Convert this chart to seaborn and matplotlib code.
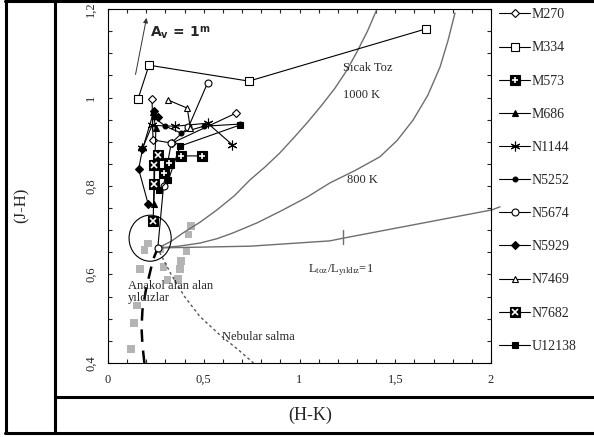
import numpy as np
import pandas as pd
import matplotlib
matplotlib.use("Agg")
import matplotlib.pyplot as plt
import seaborn as sns
from matplotlib.lines import Line2D
from matplotlib.patches import Ellipse
from matplotlib.ticker import MultipleLocator, FuncFormatter
from matplotlib.legend_handler import HandlerTuple

sns.set_style("ticks")
plt.rcParams['font.family'] = ['Liberation Serif', 'DejaVu Serif']
plt.rcParams['mathtext.fontset'] = 'stix'

# gözlenen galaksi çekirdekleri (H-K, J-H)
M270_x = [0.23, 0.235, 0.334, 0.67]
M270_y = [0.996, 0.904, 0.897, 0.965]
M334_x = [0.157, 0.214, 0.736, 1.66]
M334_y = [0.997, 1.073, 1.037, 1.155]
M573_x = [0.29, 0.32, 0.382, 0.49]
M573_y = [0.83, 0.852, 0.868, 0.868]
M686_x = [0.24, 0.245, 0.25, 0.235]
M686_y = [0.76, 0.86, 0.93, 0.967]
N1144_x = [0.18, 0.23, 0.35, 0.52, 0.65]
N1144_y = [0.885, 0.937, 0.935, 0.942, 0.893]
N5252_x = [0.24, 0.30, 0.38, 0.50, 0.69]
N5252_y = [0.955, 0.935, 0.92, 0.935, 0.94]
N5674_x = [0.26, 0.29, 0.33, 0.42, 0.52]
N5674_y = [0.66, 0.80, 0.897, 0.933, 1.033]
N5929_x = [0.21, 0.16, 0.18, 0.24, 0.26]
N5929_y = [0.759, 0.838, 0.883, 0.97, 0.955]
N7469_x = [0.315, 0.414, 0.43]
N7469_y = [0.994, 0.976, 0.93]
N7682_x = [0.236, 0.24, 0.24, 0.26]
N7682_y = [0.721, 0.804, 0.848, 0.87]
U12138_x = [0.265, 0.315, 0.376, 0.69]
U12138_y = [0.79, 0.813, 0.890, 0.938]

# anakol yıldızları (gri kareler)
star_x = [0.435, 0.42, 0.21, 0.19, 0.27, 0.41, 0.38, 0.167, 0.29, 0.376, 0.31, 0.366, 0.15, 0.136, 0.12]
star_y = [0.71, 0.69, 0.67, 0.655, 0.657, 0.653, 0.63, 0.612, 0.617, 0.612, 0.588, 0.59, 0.53, 0.49, 0.432]

# model eğrileri
ms_x = [0.19, 0.18, 0.175, 0.18, 0.20, 0.235, 0.26]
ms_y = [0.40, 0.44, 0.48, 0.52, 0.57, 0.633, 0.66]
neb_x = [0.27, 0.33, 0.40, 0.48, 0.58, 0.68, 0.76]
neb_y = [0.65, 0.60, 0.55, 0.505, 0.465, 0.43, 0.40]
t1000_x = [0.261, 0.33, 0.392, 0.48, 0.569, 0.66, 0.742, 0.82, 0.898, 0.97, 1.044, 1.115, 1.185, 1.245, 1.300, 1.355, 1.405]
t1000_y = [0.660, 0.675, 0.694, 0.718, 0.746, 0.778, 0.814, 0.843, 0.875, 0.909, 0.945, 0.982, 1.021, 1.060, 1.103, 1.150, 1.200]
t800_x = [0.261, 0.37, 0.480, 0.57, 0.653, 0.78, 0.914, 1.04, 1.159, 1.29, 1.420, 1.51, 1.593, 1.67, 1.734, 1.775, 1.812]
t800_y = [0.660, 0.664, 0.671, 0.681, 0.694, 0.717, 0.746, 0.775, 0.807, 0.835, 0.866, 0.903, 0.949, 1.005, 1.069, 1.128, 1.191]
lum_x = [0.261, 0.742, 1.159, 1.227, 2.005, 2.047]
lum_y = [0.660, 0.664, 0.676, 0.682, 0.746, 0.753]

fig = plt.figure(figsize=(5.94, 4.37), dpi=100)
ax = fig.add_axes([108/594, 1-363/437, (491-108)/594, (363-9)/437])

sns.scatterplot(x=star_x, y=star_y, marker='s', s=30, color='#b4b4b4',
                edgecolor='none', ax=ax, zorder=1, legend=False)

gray = '#6e6e6e'
for cx, cy in [(t1000_x, t1000_y), (t800_x, t800_y)]:
    ax.plot(cx, cy, color=gray, lw=1.0, zorder=2)
ax.plot(lum_x, lum_y, color=gray, lw=1.0, zorder=2, clip_on=False)
ax.plot([1.227, 1.227], [0.668, 0.70], color=gray, lw=1.0)
ax.plot(ms_x, ms_y, color='black', lw=1.8, dashes=(5, 3.5), zorder=2)
ax.plot(neb_x, neb_y, color='#555555', lw=1.0, linestyle=(0, (2, 2)), zorder=2)
ax.add_patch(Ellipse((0.22, 0.682), 0.22, 0.104, fill=False, lw=0.8, ec='black', zorder=2))

series = [
    ("M270", M270_x, M270_y, dict(marker='D', ms=4, mfc='white')),
    ("M334", M334_x, M334_y, dict(marker='s', ms=5.5, mfc='white')),
    ("M573", M573_x, M573_y, dict(marker='s', ms=7, mfc='black')),
    ("M686", M686_x, M686_y, dict(marker='^', ms=5, mfc='black')),
    ("N1144", N1144_x, N1144_y, dict(marker=(6, 2, 0), ms=7, mfc='black')),
    ("N5252", N5252_x, N5252_y, dict(marker='o', ms=3.5, mfc='black')),
    ("N5674", N5674_x, N5674_y, dict(marker='o', ms=5, mfc='white')),
    ("N5929", N5929_x, N5929_y, dict(marker='D', ms=4, mfc='black')),
    ("N7469", N7469_x, N7469_y, dict(marker='^', ms=5, mfc='white')),
    ("N7682", N7682_x, N7682_y, dict(marker='s', ms=7, mfc='black')),
    ("U12138", U12138_x, U12138_y, dict(marker='s', ms=5, mfc='black')),
]
overlay = {"M573": '+', "N7682": 'x'}

handles, labels = [], []
for name, sx, sy, st in series:
    sns.lineplot(x=sx, y=sy, estimator=None, sort=False, color='black', lw=0.8,
                 mec='black', mew=0.8, ax=ax, zorder=3, **st)
    h = Line2D([], [], color='black', lw=0.8, mec='black', mew=0.8, **st)
    if name in overlay:
        ax.plot(sx, sy, ls='none', marker=overlay[name], ms=4.5, mec='white', mew=1.2, zorder=4)
        h = (h, Line2D([], [], ls='none', marker=overlay[name], ms=4.5, mec='white', mew=1.2))
    handles.append(h)
    labels.append(name)

ax.annotate('', xy=(0.204, 1.186), xytext=(0.141, 1.046),
            arrowprops=dict(arrowstyle='-|>', lw=0.7, color='#333333', mutation_scale=7))
ax.text(0.22, 1.148, r'A$_\mathregular{v}$ = 1$^\mathregular{m}$', fontsize=10, fontweight='bold',
        family=['DejaVu Sans'], va='center')
ax.text(1.227, 1.067, 'Sıcak Toz', fontsize=9, va='center')
ax.text(1.227, 1.006, '1000 K', fontsize=9, va='center')
ax.text(1.248, 0.814, '800 K', fontsize=9, va='center')
ax.text(1.044, 0.61, r'L$_\mathregular{toz}$/L$_\mathregular{yıldız}$=1', fontsize=9, va='center')
ax.text(0.104, 0.56, 'Anakol alan alan\nyıldızlar', fontsize=9, va='center', linespacing=1.0)
ax.text(0.595, 0.459, 'Nebular salma', fontsize=9, va='center')

ax.set_xlim(0, 2)
ax.set_ylim(0.4, 1.2)
ax.xaxis.set_major_locator(MultipleLocator(0.5))
ax.xaxis.set_minor_locator(MultipleLocator(0.1))
ax.yaxis.set_major_locator(MultipleLocator(0.2))
ax.yaxis.set_minor_locator(MultipleLocator(0.05))
comma = FuncFormatter(lambda v, p: f'{v:g}'.replace('.', ','))
ax.xaxis.set_major_formatter(comma)
ax.yaxis.set_major_formatter(comma)
ax.tick_params(which='both', direction='in', top=True, right=True, length=3, width=0.8,
               labelsize=9, pad=8)
plt.setp(ax.get_yticklabels(), rotation=90, va='center')
for sp in ax.spines.values():
    sp.set_linewidth(0.8)
    sp.set_color('black')

fig.legend(handles, labels, loc='upper left', bbox_to_anchor=(491/594, 1),
           frameon=False, fontsize=10, handlelength=2.2, labelspacing=1.45,
           handletextpad=0.1, borderpad=0.1,
           handler_map={tuple: HandlerTuple(ndivide=1)})

# tablo çerçevesi
def fline(x0, y0, x1, y1):
    fig.add_artist(Line2D([x0/594, x1/594], [1-y0/437, 1-y1/437], color='black', lw=2.2))
fline(6, 0, 6, 433)
fline(55, 0, 55, 433)
fline(5, 1, 594, 1)
fline(55, 397, 594, 397)
fline(5, 433, 594, 433)

fig.text(22/594, 1-205/437, '(J-H)', rotation=90, fontsize=12, ha='center', va='center')
fig.text(310/594, 1-415/437, '(H-K)', fontsize=13, ha='center', va='center')

fig.savefig('out.png', dpi=100)
